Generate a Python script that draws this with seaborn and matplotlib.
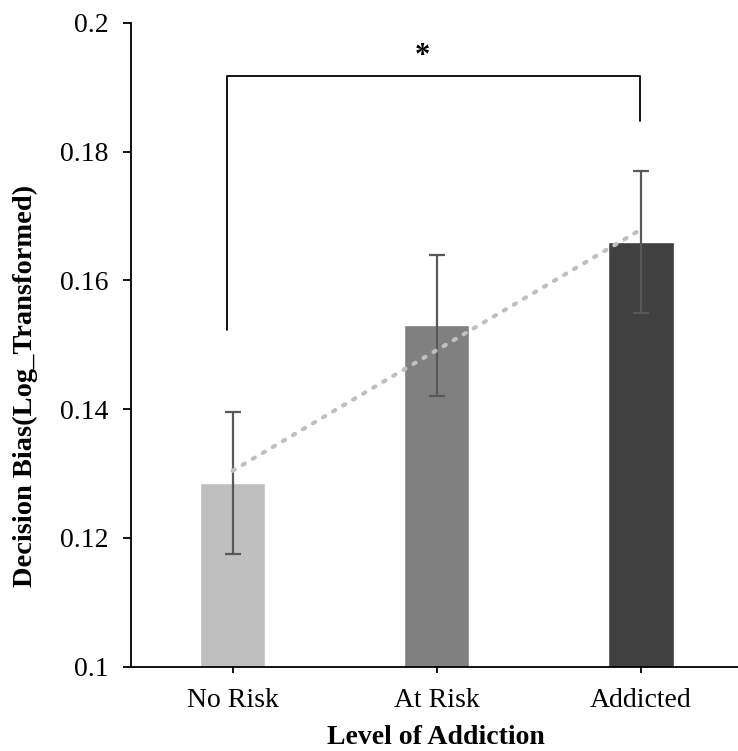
import numpy as np
import pandas as pd
import matplotlib
matplotlib.use("Agg")
import matplotlib.pyplot as plt
import seaborn as sns

categories = ["No Risk", "At Risk", "Addicted"]
values = [0.1285, 0.153, 0.166]
errors = [0.011, 0.011, 0.011]
bar_colors = ["#BFBFBF", "#808080", "#404040"]
yticks = [0.1, 0.12, 0.14, 0.16, 0.18, 0.2]
ytick_labels = ["0.1", "0.12", "0.14", "0.16", "0.18", "0.2"]

sns.set_style("white")
plt.rcParams["font.family"] = ["Liberation Serif", "DejaVu Serif"]
plt.rcParams["text.color"] = "black"
plt.rcParams["axes.labelcolor"] = "black"
plt.rcParams["xtick.color"] = "black"
plt.rcParams["ytick.color"] = "black"

W, H = 738, 751
fig = plt.figure(figsize=(W / 100, H / 100), dpi=100)
ax = fig.add_axes([130.5 / W, 1 - 666.5 / H, (W - 130.5) / W, (666.5 - 23) / H])

df = pd.DataFrame({"cat": categories, "val": values})
sns.barplot(data=df, x="cat", y="val", hue="cat", palette=bar_colors,
            width=0.32, errorbar=None, legend=False, ax=ax, saturation=1)

xs = np.arange(len(categories))
ax.errorbar(xs, values, yerr=errors, fmt="none", ecolor="#595959",
            elinewidth=1.6, capsize=6, capthick=1.6, zorder=3)

# linear trend line
coef = np.polyfit(xs, values, 1)
tx = np.array([0, 2])
ax.plot(tx, np.polyval(coef, tx), linestyle=(0, (0.6, 2.2)), color="#BFBFBF",
        linewidth=3, dash_capstyle="round", zorder=4)

# significance bracket
ax.plot([-0.027, -0.027, 1.995, 1.995], [0.1523, 0.1917, 0.1917, 0.1848],
        color="black", linewidth=1.3, clip_on=False, zorder=5)
ax.text(0.93, 0.1948, "*", ha="center", va="center", fontsize=22, fontweight="bold")

ax.set_xlim(-0.5, 2.475)
ax.set_ylim(0.1, 0.2)
ax.set_yticks(yticks)
ax.set_yticklabels(ytick_labels)
ax.tick_params(axis="both", labelsize=20, width=1.3, color="black",
               direction="out", left=True, bottom=True)
ax.tick_params(axis="y", length=6, pad=10)
ax.tick_params(axis="x", length=4.5, pad=11)
for side in ["top", "right"]:
    ax.spines[side].set_visible(False)
for side in ["left", "bottom"]:
    ax.spines[side].set_color("black")
    ax.spines[side].set_linewidth(1.3)

ax.set_xlabel("Level of Addiction", fontsize=20, fontweight="bold")
ax.set_ylabel("Decision Bias(Log_Transformed)", fontsize=20.5, fontweight="bold")
ax.xaxis.set_label_coords((436 - 130.5) / (W - 130.5), (666.5 - 725) / 643.5)
ax.yaxis.set_label_coords((38 - 130.5) / (W - 130.5), (666.5 - 385.5) / 643.5)

fig.savefig("out.png", dpi=100)
